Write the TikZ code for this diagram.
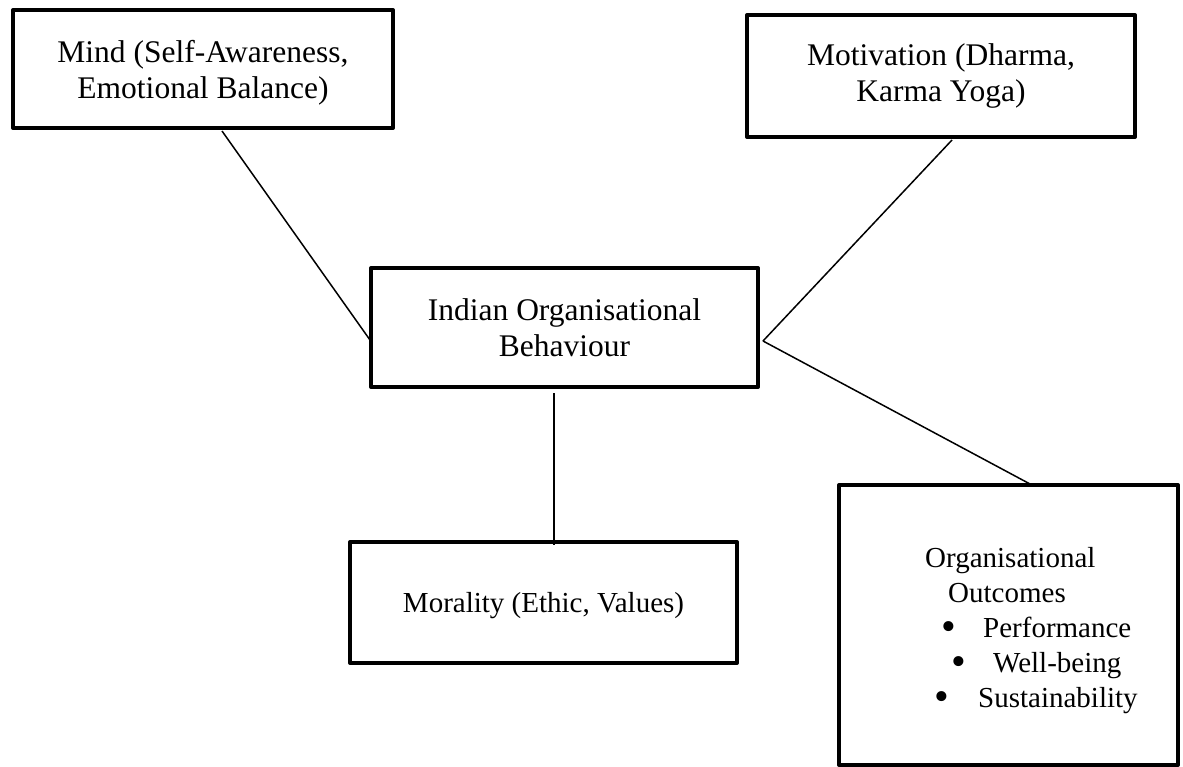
\documentclass[tikz,border=0pt]{standalone}
\usepackage{fontspec}
\usepackage{graphicx}
\setmainfont{Liberation Serif}
\usetikzlibrary{calc}
\newcommand{\bigbul}{\raisebox{-2.8pt}{\scalebox{1.45}{\textbullet}}}
\begin{document}
\begin{tikzpicture}[x=1pt,y=-1pt,
  box/.style={draw=black, line width=4pt, line join=round, rectangle, inner sep=0pt, align=center},
  big/.style={font=\fontsize{31.5}{36}\selectfont},
  small/.style={font=\fontsize{29}{35}\selectfont},
  link/.style={draw=black, line width=1.5pt}]
\fill[white] (0,0) rectangle (1183,767);
\useasboundingbox (0,0) rectangle (1183,767);

\node[box, big, text depth=0pt, minimum width=380pt, minimum height=118pt] (mind) at (203,69)
  {Mind (Self-Awareness,\\Emotional Balance)};
\node[box, big, minimum width=388pt, minimum height=122pt] (motiv) at (941,76)
  {Motivation (Dharma,\\Karma Yoga)};
\node[box, big, minimum width=387pt, minimum height=119pt] (iob) at (564.5,327.5)
  {Indian Organisational\\Behaviour};
\node[box, small, text depth=0pt, minimum width=387pt, minimum height=121pt] (moral) at (543.5,602.5)
  {Morality (Ethic, Values)};
\node[box, minimum width=339pt, minimum height=280pt] (outc) at (1008.5,625) {};
\node[small, inner sep=0pt, align=left, anchor=north west] (outtext) at (925,547)
  {Organisational\\
   \hspace*{23pt}Outcomes\\
   \hspace*{16pt}\makebox[42pt][l]{\bigbul}Performance\\
   \hspace*{26pt}\makebox[42pt][l]{\bigbul}Well-being\\
   \hspace*{9pt}\makebox[44pt][l]{\bigbul}Sustainability};

\draw[link] ($(mind.south)+(19,1)$) -- ($(iob.west)+(1,12.5)$);
\draw[link] ($(motiv.south)+(11,1)$) -- ($(iob.east)+(3,13.5)$);
\draw[link] ($(iob.east)+(3,13.5)$) -- ($(outc.north)+(21.5,1)$);
\draw[link] ($(iob.south)+(-10.5,4)$) -- ($(moral.north)+(10.5,5)$);
\end{tikzpicture}
\end{document}
